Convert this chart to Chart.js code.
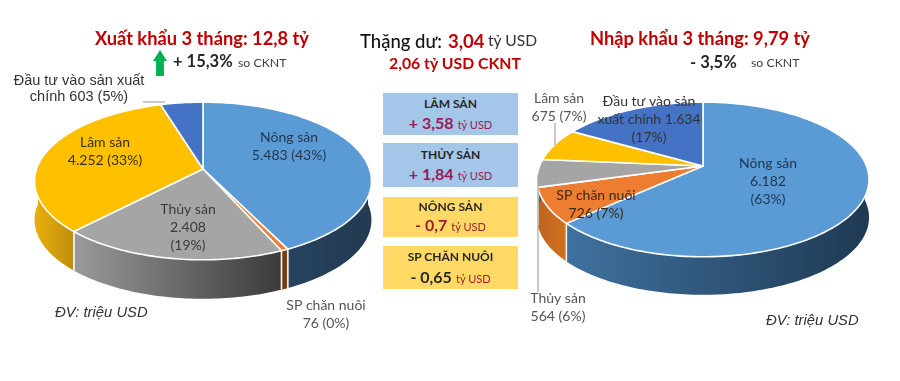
<!DOCTYPE html>
<html lang="vi"><head><meta charset="utf-8">
<script src="https://cdn.jsdelivr.net/npm/chart.js@4"></script>
<style>
html,body{margin:0;padding:0;background:#fff}
#page{position:relative;width:900px;height:381px;overflow:hidden;font-family:Lato,"Noto Sans",sans-serif;filter:blur(.45px)}
canvas{position:absolute}
.t{position:absolute;white-space:nowrap;line-height:1;transform:translate(-50%,-50%)}
.l{position:absolute;white-space:nowrap;line-height:1;transform:translateY(-50%)}
.red{color:#c00000;font-weight:700}
.box{position:absolute;left:383px;width:135px;text-align:center}
.box .h{position:absolute;left:0;right:0;font-weight:700;font-size:12px;color:#262626;line-height:1}
.box .v{position:absolute;left:0;right:0;line-height:1;white-space:nowrap}
.box b{font-size:16px}
.box span{font-size:11px}
.unit{font:italic 14.8px "Liberation Sans",Arial,sans-serif;color:#333}
#arrow{position:absolute;left:153px;top:50px;width:14px;height:26px;background:#00b050;clip-path:polygon(50% 0,100% 42%,78% 42%,78% 100%,22% 100%,22% 42%,0 42%)}
</style></head><body>
<div id="page">
<canvas id="exp" width="400" height="340" style="left:3px;top:-1px;width:400px;height:340px"></canvas>
<canvas id="imp" width="400" height="340" style="left:503px;top:-4px;width:400px;height:340px"></canvas>

<div class="t red" style="left:202px;top:38px;font-size:18.3px">Xuất khẩu 3 tháng: 12,8 tỷ</div>
<div id="arrow"></div>
<div class="l" style="left:173px;top:61px;font-size:16.5px;font-weight:700;color:#262626">+ 15,3%</div>
<div class="l" style="left:238px;top:63px;font-size:12.3px;color:#404040">so CKNT</div>

<div class="l" style="left:360px;top:41px;font-size:18.5px;color:#111"><span style="font-weight:500">Thặng dư:</span></div>
<div class="l red" style="left:448px;top:41px;font-size:18.5px">3,04</div>
<div class="l" style="left:488px;top:41px;font-size:15.6px;color:#333">tỷ USD</div>
<div class="t red" style="left:455px;top:63px;font-size:15.8px">2,06 tỷ USD CKNT</div>

<div class="box" style="top:93px;height:42px;background:#a4c6e8"><div class="h" style="top:5px">LÂM SẢN</div><div class="v" style="top:22px;color:#9b1b5a"><b>+ 3,58</b> <span>tỷ USD</span></div></div>
<div class="box" style="top:143px;height:44px;background:#a4c6e8"><div class="h" style="top:6px">THỦY SẢN</div><div class="v" style="top:23px;color:#9b1b5a"><b>+ 1,84</b> <span>tỷ USD</span></div></div>
<div class="box" style="top:197px;height:40px;background:#ffd966"><div class="h" style="top:4px">NÔNG SẢN</div><div class="v" style="top:20px;color:#a01c2c"><b>- 0,7</b> <span>tỷ USD</span></div></div>
<div class="box" style="top:246px;height:43px;background:#ffd966"><div class="h" style="top:5px">SP CHĂN NUÔI</div><div class="v" style="top:23px;color:#7f1d1d"><b style="color:#262626">- 0,65</b> <span style="color:#a01c2c">tỷ USD</span></div></div>

<div class="t red" style="left:700px;top:38px;font-size:18.3px">Nhập khẩu 3 tháng: 9,79 tỷ</div>
<div class="l" style="left:690px;top:62px;font-size:16.5px;font-weight:700;color:#262626">- 3,5%</div>
<div class="l" style="left:751px;top:63px;font-size:12.3px;color:#404040">so CKNT</div>

<div class="l unit" style="left:55px;top:312px">ĐV: triệu USD</div>
<div class="l unit" style="left:766px;top:320px">ĐV: triệu USD</div>
</div>
<script>
const categories = ["Nông sản","SP chăn nuôi","Thủy sản","Lâm sản","Đầu tư vào sản xuất chính"];
const exportValues = [5483,76,2408,4252,603];
const importValues = [6182,726,564,675,1634];
const exportLabels = [["Nông sản","5.483 (43%)"],["SP chăn nuôi","76 (0%)"],["Thủy sản","2.408","(19%)"],["Lâm sản","4.252 (33%)"],["Đầu tư vào sản xuất","chính 603 (5%)"]];
const importLabels = [["Nông sản","6.182","(63%)"],["SP chăn nuôi","726 (7%)"],["Thủy sản","564 (6%)"],["Lâm sản","675 (7%)"],["Đầu tư vào sản","xuất chính 1.634","(17%)"]];

const sliceColors = ["#5b9bd5","#ed7d31","#a5a5a5","#ffc000","#4472c4"];
const exportWalls = [["#27435e","#223a52"],["#7a3f10","#733a0c"],["#9a9a9a","#3a3a3a"],["#e6ae0c","#bd8c10"],["#2f5597","#203864"]];
const importWalls = [["#3f719f","#1f3a54"],["#c0651f","#d0701f"],["#9a9a9a","#3a3a3a"],["#e6ae0c","#bd8c10"],["#2f5597","#203864"]];
const exportLabelAt = [[289,137],[326,305],[188,209],[105,142],[79,81]];
const importLabelAt = [[768,163],[596,195],[558,298],[559,98],[649,101]];
const exportLabelColor = ["#1f3550","#555","#3a3a3a","#3a3000","#333"];
const importLabelColor = ["#1f3550","#3a2a1a","#555","#555","#333"];

const perspective = {
  id:"perspective",
  beforeDatasetsDraw(chart,args,o){
    const ctx=chart.ctx, arcs=chart.getDatasetMeta(0).data;
    const P=(el,a,dy=0)=>{
      const p=el.getProps(["x","y","outerRadius"],true);
      const R=p.outerRadius,u=Math.cos(a),v=Math.sin(a),w=1-o.k*v;
      return [p.x+R*u/w, p.y+R*o.ratio*v/w+dy];
    };
    const sweep=(el,a0,a1,dy,fn)=>{
      const n=Math.max(2,Math.ceil(Math.abs(a1-a0)/0.02));
      for(let i=0;i<=n;i++){const q=P(el,a0+(a1-a0)*i/n,dy);fn(q[0],q[1],i);}
    };
    const front=(el)=>{
      const a=el.getProps(["startAngle","endAngle"],true);
      const bits=[];
      for(const sh of [-2*Math.PI,0,2*Math.PI]){
        const s=Math.max(a.startAngle+sh,o.wallFrom),e=Math.min(a.endAngle+sh,o.wallTo);
        if(e>s)bits.push([s,e]);
      }
      return bits;
    };
    arcs.forEach((el,i)=>{
      front(el).forEach(([s,e])=>{
        const pa=P(el,s),pb=P(el,e);
        const g=ctx.createLinearGradient(Math.min(pa[0],pb[0]),0,Math.max(pa[0],pb[0]),0);
        g.addColorStop(0,o.walls[i][0]);g.addColorStop(1,o.walls[i][1]);
        ctx.beginPath();
        sweep(el,s,e,0,(x,y,j)=>j?ctx.lineTo(x,y):ctx.moveTo(x,y));
        sweep(el,e,s,o.depth,(x,y)=>ctx.lineTo(x,y));
        ctx.closePath();ctx.fillStyle=g;ctx.fill();
        ctx.strokeStyle="rgba(255,255,255,.9)";ctx.lineWidth=1.5;
        ctx.beginPath();
        [s,e].forEach(t=>{
          if(t<=o.wallFrom||t>=o.wallTo)return;
          const q=P(el,t);ctx.moveTo(q[0],q[1]);ctx.lineTo(q[0],q[1]+o.depth);
        });
        ctx.stroke();
      });
    });
    arcs.forEach((el,i)=>{
      const a=el.getProps(["x","y","startAngle","endAngle"],true);
      ctx.beginPath();ctx.moveTo(a.x,a.y);
      sweep(el,a.startAngle,a.endAngle,0,(x,y)=>ctx.lineTo(x,y));
      ctx.closePath();ctx.fillStyle=sliceColors[i];ctx.fill();
      ctx.strokeStyle="#fff";ctx.lineWidth=1.6;ctx.lineJoin="round";ctx.stroke();
    });
    ctx.strokeStyle="#a6a6a6";ctx.lineWidth=1.2;
    o.leaders.forEach(s=>{ctx.beginPath();ctx.moveTo(s[0]-o.left,s[1]-o.top);ctx.lineTo(s[2]-o.left,s[3]-o.top);ctx.stroke();});
    ctx.textAlign="center";ctx.textBaseline="middle";
    o.labels.forEach((lines,i)=>{
      const arial=o.arial===i;
      ctx.font=arial?'14.5px "Liberation Sans",Arial,sans-serif':'14px Lato,"Noto Sans",sans-serif';
      ctx.fillStyle=o.labelColor[i];
      const step=arial?16:18;
      lines.forEach((t,j)=>ctx.fillText(t,o.at[i][0]-o.left,o.at[i][1]-o.top+j*step));
    });
    return false;
  }
};

function pie(id,values,opt){
  return new Chart(document.getElementById(id),{
    type:"pie",
    data:{labels:categories,datasets:[{data:values,backgroundColor:sliceColors,borderWidth:0}]},
    plugins:[perspective],
    options:{responsive:false,animation:false,radius:opt.radius,
      layout:{padding:0},
      plugins:{legend:{display:false},tooltip:{enabled:false},perspective:opt}}
  });
}
pie("exp",exportValues,{radius:166.5,k:.152,ratio:77/166.5,depth:39,wallFrom:-.05,wallTo:Math.PI+.05,left:3,top:-1,walls:exportWalls,
  labels:exportLabels,at:exportLabelAt,labelColor:exportLabelColor,arial:4,leaders:[[143,102,165,102]]});
pie("imp",importValues,{radius:163.5,k:.174,ratio:75/163.5,depth:38,wallFrom:-.05,wallTo:Math.PI+.05,left:503,top:-4,walls:importWalls,
  labels:importLabels,at:importLabelAt,labelColor:importLabelColor,arial:-1,leaders:[[555,123,555,145],[538,175,538,292]]});
</script>
</body></html>
